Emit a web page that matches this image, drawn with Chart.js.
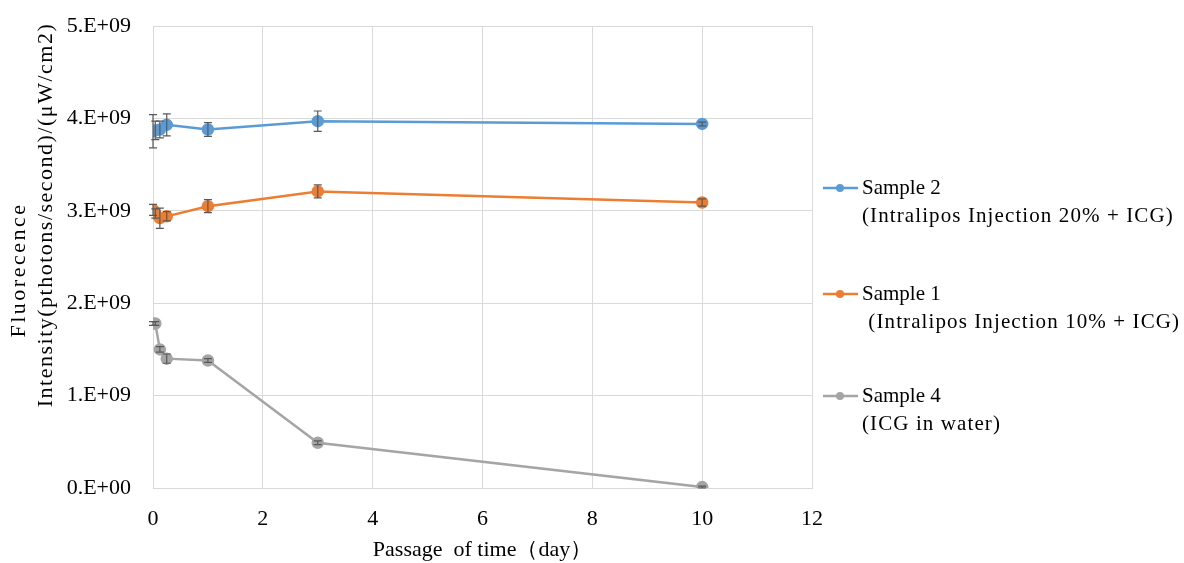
<!DOCTYPE html>
<html>
<head>
<meta charset="utf-8">
<script src="https://cdn.jsdelivr.net/npm/chart.js@4.4.1/dist/chart.umd.min.js"></script>
<style>
  html, body { margin: 0; padding: 0; background: #fff; }
  #wrap { width: 1184px; height: 563px; }
</style>
</head>
<body>
<div id="wrap"><canvas id="myChart" width="1184" height="563"></canvas></div>
<script>
// time points (day)
const days = [0, 0.042, 0.125, 0.25, 1, 3, 10];

// values in units of 1E9
const sample2 = [3.86, 3.87, 3.88, 3.93, 3.88, 3.97, 3.94];
const sample2Err = [0.18, 0.10, 0.09, 0.12, 0.075, 0.11, 0.02];
const sample1 = [3.01, 2.97, 2.92, 2.94, 3.05, 3.21, 3.09];
const sample1Err = [0.06, 0.05, 0.11, 0.05, 0.07, 0.07, 0.04];
const sample4 = [1.78, 1.78, 1.50, 1.40, 1.38, 0.49, 0.01];
const sample4Err = [0.02, 0.02, 0.03, 0.05, 0.02, 0.02, 0.01];

const seriesNames = [
  ['Sample 2', '(Intralipos Injection 20% + ICG)'],
  ['Sample 1', ' (Intralipos Injection 10% + ICG)'],
  ['Sample 4', '(ICG in water)']
];
const yTickLabels = ['0.E+00', '1.E+09', '2.E+09', '3.E+09', '4.E+09', '5.E+09'];
const yTitle = ['Fluorecence', 'Intensity(pthotons/second)/(μW/cm2)'];
const xTitle = 'Passage  of time（day）';

const colors = ['#5B9BD5', '#ED7D31', '#A5A5A5'];
const serif = '"Liberation Serif", "Times New Roman", serif';

function toPoints(vals) {
  return vals.map((v, i) => ({ x: days[i], y: v * 1e9 }));
}

const errs = [sample2Err, sample1Err, sample4Err];

// draws the error bars through the chart scales
const errorBars = {
  id: 'errorBars',
  afterDatasetsDraw(chart) {
    const ctx = chart.ctx;
    const ys = chart.scales.y;
    ctx.save();
    ctx.strokeStyle = '#595959';
    ctx.lineWidth = 1.2;
    chart.data.datasets.forEach((ds, di) => {
      const meta = chart.getDatasetMeta(di);
      meta.data.forEach((pt, i) => {
        const e = errs[di][i] * 1e9;
        const v = ds.data[i].y;
        const top = ys.getPixelForValue(v + e);
        const bot = ys.getPixelForValue(v - e);
        ctx.beginPath();
        ctx.moveTo(pt.x, top); ctx.lineTo(pt.x, bot);
        ctx.moveTo(pt.x - 4, top); ctx.lineTo(pt.x + 4, top);
        ctx.moveTo(pt.x - 4, bot); ctx.lineTo(pt.x + 4, bot);
        ctx.stroke();
      });
    });
    ctx.restore();
  }
};

// legend on the right with two-line labels + y title (two lines, offset like the original)
const sideText = {
  id: 'sideText',
  afterDraw(chart) {
    const ctx = chart.ctx;
    const x0 = chart.chartArea.right + 11;
    const tops = [188, 294, 396];
    ctx.save();
    ctx.textBaseline = 'middle';
    seriesNames.forEach((lines, i) => {
      const y = tops[i];
      ctx.strokeStyle = colors[i];
      ctx.lineWidth = 2.5;
      ctx.beginPath();
      ctx.moveTo(x0, y); ctx.lineTo(x0 + 35, y);
      ctx.stroke();
      ctx.fillStyle = colors[i];
      ctx.beginPath();
      ctx.arc(x0 + 17, y, 4, 0, Math.PI * 2);
      ctx.fill();
      ctx.fillStyle = '#000';
      ctx.font = '21px ' + serif;
      ctx.letterSpacing = '0px';
      ctx.fillText(lines[0], x0 + 39, y);
      ctx.letterSpacing = '1.1px';
      ctx.fillText(lines[1], x0 + 39, y + 28);
    });

    // y axis title
    ctx.font = '22px ' + serif;
    ctx.textAlign = 'center';
    ctx.fillStyle = '#000';
    ctx.save();
    ctx.translate(19, 270);
    ctx.rotate(-Math.PI / 2);
    ctx.letterSpacing = '2.5px';
    ctx.fillText(yTitle[0], 0, 0);
    ctx.restore();
    ctx.save();
    ctx.translate(46, 215);
    ctx.rotate(-Math.PI / 2);
    ctx.letterSpacing = '1.5px';
    ctx.fillText(yTitle[1], 0, 0);
    ctx.restore();
    ctx.restore();
  }
};

const ctx = document.getElementById('myChart');
const myChart = new Chart(ctx, {
  type: 'line',
  data: {
    datasets: [sample2, sample1, sample4].map((vals, i) => ({
      label: seriesNames[i][0],
      data: toPoints(vals),
      borderColor: colors[i],
      backgroundColor: colors[i],
      pointBackgroundColor: colors[i],
      pointBorderColor: colors[i],
      borderWidth: 2.5,
      pointRadius: 5,
      lineTension: 0
    }))
  },
  options: {
    responsive: false,
    animation: false,
    layout: { padding: { top: 26, right: 372, left: 0, bottom: 0 } },
    plugins: {
      legend: { display: false },
      tooltip: { enabled: false }
    },
    scales: {
      x: {
        type: 'linear',
        min: 0, max: 12,
        ticks: { stepSize: 2, color: '#000', padding: 18, font: { family: serif, size: 22 } },
        grid: { color: '#d9d9d9', drawTicks: false },
        border: { color: '#d9d9d9' },
        title: { display: true, text: xTitle, color: '#000', padding: { top: 3, bottom: 0 }, font: { family: serif, size: 22 } },
        afterFit(scale) { scale.height = 75; scale.paddingLeft = 0; scale.paddingRight = 0; }
      },
      y: {
        min: 0, max: 5e9,
        ticks: {
          stepSize: 1e9, color: '#000', padding: 22,
          font: { family: serif, size: 22 },
          callback: (v) => yTickLabels[Math.round(v / 1e9)]
        },
        grid: { color: '#d9d9d9', drawTicks: false },
        border: { color: '#d9d9d9' },
        afterFit(scale) { scale.width = 153; scale.paddingTop = 0; scale.paddingBottom = 0; }
      }
    }
  },
  plugins: [errorBars, sideText]
});
</script>
</body>
</html>
